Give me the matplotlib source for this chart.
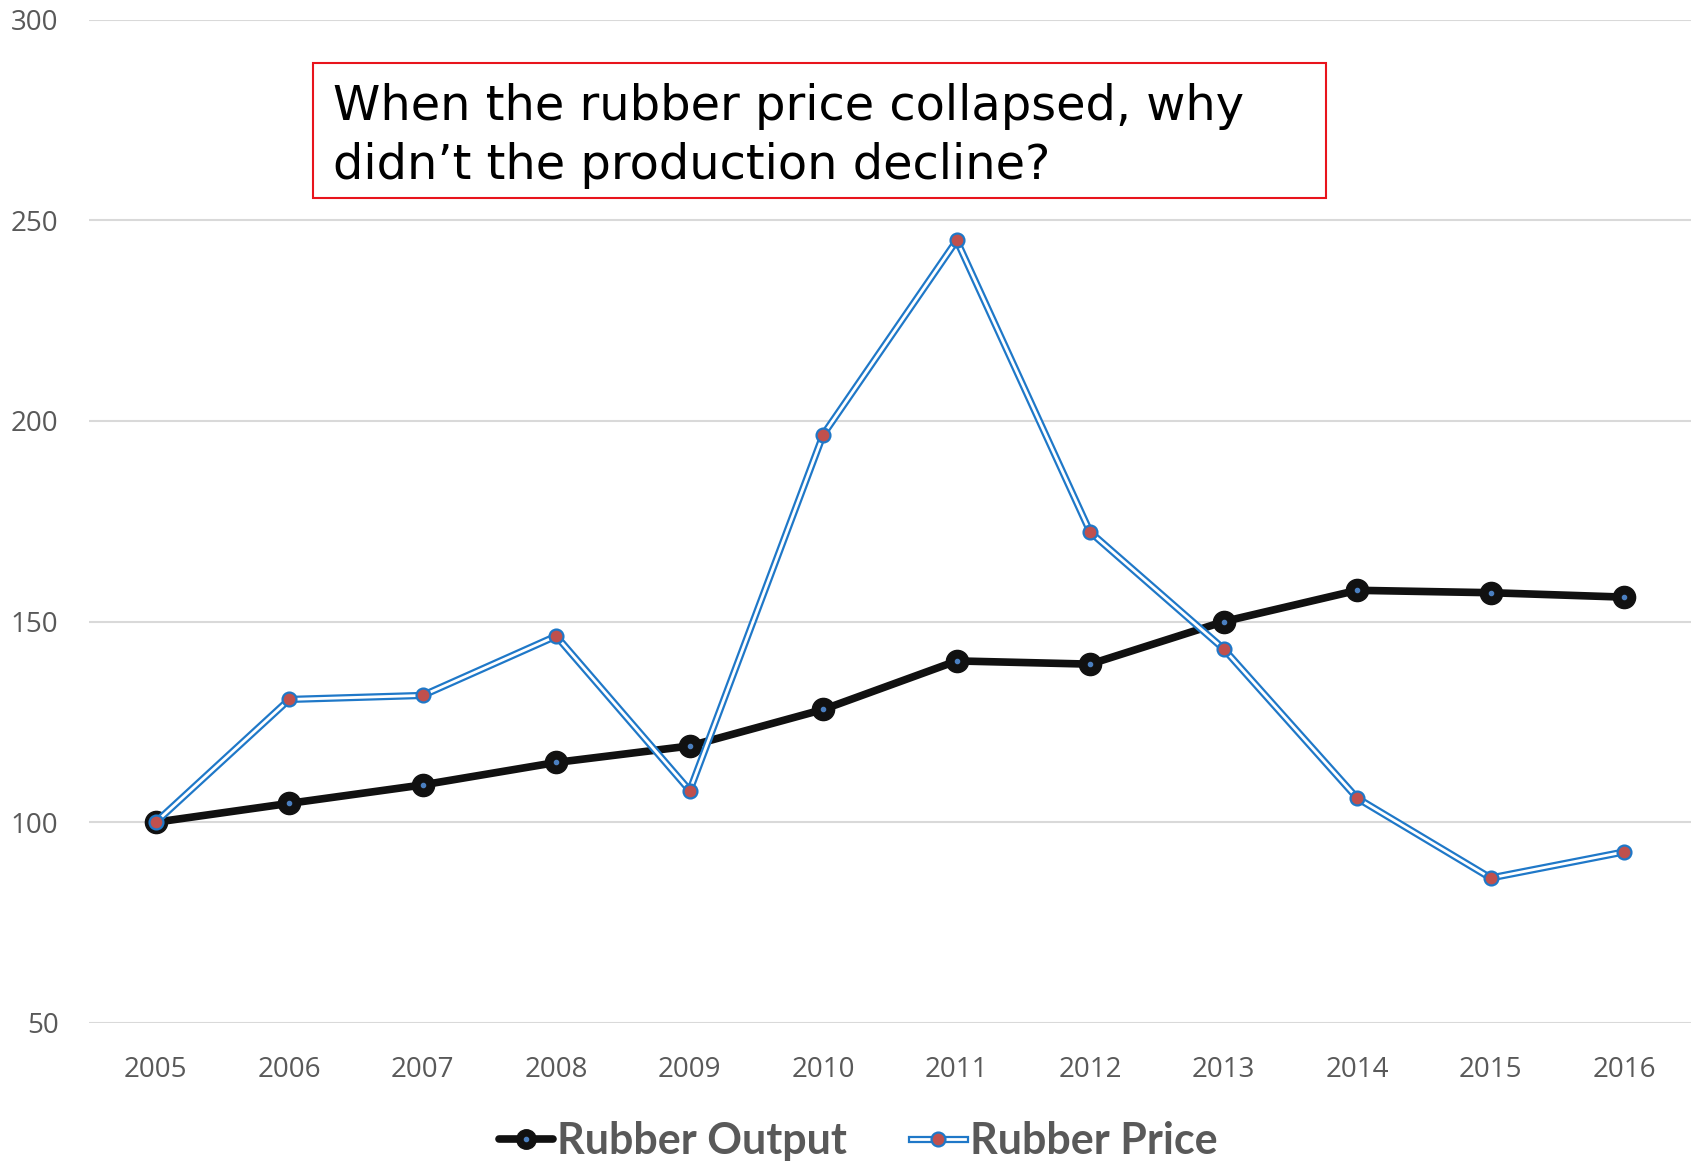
import matplotlib
matplotlib.use('Agg')
import matplotlib.pyplot as plt
from matplotlib.lines import Line2D
from matplotlib.legend_handler import HandlerTuple

years = ['2005', '2006', '2007', '2008', '2009', '2010',
         '2011', '2012', '2013', '2014', '2015', '2016']
rubber_output = [100, 104.7, 109.3, 114.9, 119.0, 128.1,
                 140.2, 139.4, 150.0, 157.8, 157.2, 156.1]
rubber_price = [100, 130.6, 131.6, 146.4, 107.9, 196.6,
                245.0, 172.3, 143.2, 106.0, 86.1, 92.6]
y_ticks = [50, 100, 150, 200, 250, 300]

title_text = "When the rubber price collapsed, why\ndidn\u2019t the production decline?"

BLUE = '#1f78c8'
RED = '#c0504d'
GRAY = '#595959'

fig = plt.figure(figsize=(16.96, 11.61), dpi=100)
ax = fig.add_axes([0.0525, 0.119, 0.9445, 0.864])

x = list(range(len(years)))

# output: thick black line, black markers with a small blue dot
ax.plot(x, rubber_output, color='#111111', lw=5.5, marker='o', ms=16,
        mfc='#111111', mec='#111111', zorder=3, solid_capstyle='round')
ax.plot(x, rubber_output, ls='none', marker='o', ms=3, mfc='#4a7fc0',
        mec='#4a7fc0', zorder=4)

# price: double line (blue outline, white center) with red markers
ax.plot(x, rubber_price, color=BLUE, lw=5.2, zorder=5)
ax.plot(x, rubber_price, color='white', lw=2.0, zorder=6)
ax.plot(x, rubber_price, ls='none', marker='o', ms=10, mfc=RED,
        mec=BLUE, mew=1.6, zorder=7)

ax.set_xlim(-0.5, len(years) - 0.5)
ax.set_ylim(50, 300)
ax.set_xticks(x)
ax.set_xticklabels(years)
ax.set_yticks(y_ticks)
ax.grid(axis='y', color='#d9d9d9', lw=1.5)
ax.set_axisbelow(True)
for s in ax.spines.values():
    s.set_visible(False)
ax.tick_params(axis='both', length=0, labelsize=20, labelcolor=GRAY)
ax.tick_params(axis='y', pad=22)
ax.tick_params(axis='x', pad=24)
for lbl in ax.get_xticklabels() + ax.get_yticklabels():
    lbl.set_fontfamily('Open Sans')

# question box
fig.text(333 / 1696, 1 - 136 / 1161, title_text, fontsize=34.5,
         family='DejaVu Sans', va='center', ha='left', linespacing=1.32,
         color='black')
fig.patches.append(plt.Rectangle((313 / 1696, 1 - 198 / 1161),
                                 (1326 - 313) / 1696, (198 - 63) / 1161,
                                 transform=fig.transFigure, fill=False,
                                 edgecolor='#e8141c', lw=1.5))

# legend
h_out = (Line2D([], [], color='#111111', lw=5.5, marker='o', ms=14,
                mfc='#111111', mec='#111111', solid_capstyle='round'),
         Line2D([], [], ls='none', marker='o', ms=3, mfc='#4a7fc0', mec='#4a7fc0'))
h_price = (Line2D([], [], color=BLUE, lw=5.2),
           Line2D([], [], color='white', lw=2.0),
           Line2D([], [], ls='none', marker='o', ms=10, mfc=RED, mec=BLUE, mew=1.6))
leg = fig.legend([h_out, h_price], ['Rubber Output', 'Rubber Price'],
                 handler_map={tuple: HandlerTuple(ndivide=1, pad=0)},
                 loc='center', bbox_to_anchor=(858 / 1696, 1 - 1141 / 1161),
                 ncol=2, frameon=False, handlelength=1.25, handletextpad=0.1,
                 columnspacing=1.5, prop={'family': 'Lato', 'weight': 'bold', 'size': 31})
for t in leg.get_texts():
    t.set_color(GRAY)

fig.savefig('out.png', dpi=100)
